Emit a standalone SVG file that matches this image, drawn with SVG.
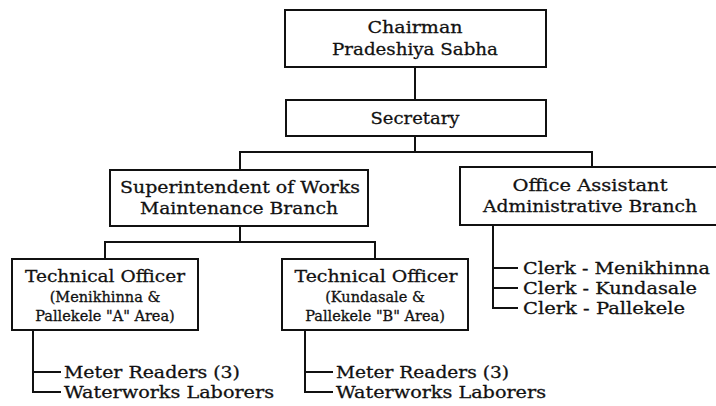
<svg xmlns="http://www.w3.org/2000/svg" width="716" height="406" viewBox="0 0 716 406">
  <style>
    .box { fill: #ffffff; stroke: #111111; stroke-width: 2; }
    .wire { fill: none; stroke: #111111; stroke-width: 2; }
    text { font-family: "DejaVu Serif", "Liberation Serif", serif; fill: #111111; stroke: #111111; stroke-width: 0.3; }
    .t { font-size: 17.5px; }
    .l { font-size: 17px; }
    .s { font-size: 14.5px; }
    .c { text-anchor: middle; }
  </style>
  <rect width="716" height="406" fill="#ffffff"/>

  <!-- connectors -->
  <g id="connectors">
    <path class="wire" d="M415,67 V100"/>
    <path class="wire" d="M415,136 V152 M240,170 V152 H592 V167"/>
    <path class="wire" d="M240,226 V242 M105,259 V242 H375 V259"/>
    <path class="wire" d="M33,330 V392 H61 M33,372 H61"/>
    <path class="wire" d="M305,330 V392 H333 M305,372 H333"/>
    <path class="wire" d="M493,225 V308 H518 M493,268 H518 M493,288 H518"/>
  </g>

  <g id="chairman">
    <rect class="box" x="285" y="10" width="261" height="57"/>
    <text class="t c" x="415" y="33" textLength="95" lengthAdjust="spacingAndGlyphs">Chairman</text>
    <text class="t c" x="415" y="55" textLength="166" lengthAdjust="spacingAndGlyphs">Pradeshiya Sabha</text>
  </g>

  <g id="secretary">
    <rect class="box" x="286" y="100" width="260" height="36"/>
    <text class="t c" x="415" y="124" textLength="89" lengthAdjust="spacingAndGlyphs">Secretary</text>
  </g>

  <g id="superintendent">
    <rect class="box" x="110" y="170" width="258" height="56"/>
    <text class="t c" x="240" y="193" textLength="240" lengthAdjust="spacingAndGlyphs">Superintendent of Works</text>
    <text class="t c" x="239" y="214" textLength="198" lengthAdjust="spacingAndGlyphs">Maintenance Branch</text>
  </g>

  <g id="office-assistant">
    <rect class="box" x="460" y="167" width="270" height="58"/>
    <text class="t c" x="590" y="191" textLength="155" lengthAdjust="spacingAndGlyphs">Office Assistant</text>
    <text class="t c" x="590" y="212" textLength="214" lengthAdjust="spacingAndGlyphs">Administrative Branch</text>
  </g>

  <g id="technical-officer-a">
    <rect class="box" x="12" y="259" width="186" height="71"/>
    <text class="t c" x="105" y="282" textLength="160" lengthAdjust="spacingAndGlyphs">Technical Officer</text>
    <text class="s c" x="105" y="302">(Menikhinna &amp;</text>
    <text class="s c" x="105" y="321">Pallekele "A" Area)</text>
  </g>

  <g id="technical-officer-b">
    <rect class="box" x="282" y="259" width="186" height="71"/>
    <text class="t c" x="376" y="282" textLength="163" lengthAdjust="spacingAndGlyphs">Technical Officer</text>
    <text class="s c" x="375" y="302">(Kundasale &amp;</text>
    <text class="s c" x="375" y="321">Pallekele "B" Area)</text>
  </g>

  <g id="clerks">
    <text class="t" x="523" y="274" textLength="187" lengthAdjust="spacingAndGlyphs">Clerk - Menikhinna</text>
    <text class="t" x="523" y="294" textLength="174" lengthAdjust="spacingAndGlyphs">Clerk - Kundasale</text>
    <text class="t" x="523" y="314" textLength="162" lengthAdjust="spacingAndGlyphs">Clerk - Pallekele</text>
  </g>

  <g id="staff-a">
    <text class="l" x="64" y="378" textLength="176" lengthAdjust="spacingAndGlyphs">Meter Readers (3)</text>
    <text class="l" x="64" y="398" textLength="210" lengthAdjust="spacingAndGlyphs">Waterworks Laborers</text>
  </g>

  <g id="staff-b">
    <text class="l" x="336" y="378" textLength="173" lengthAdjust="spacingAndGlyphs">Meter Readers (3)</text>
    <text class="l" x="336" y="398" textLength="210" lengthAdjust="spacingAndGlyphs">Waterworks Laborers</text>
  </g>
</svg>
